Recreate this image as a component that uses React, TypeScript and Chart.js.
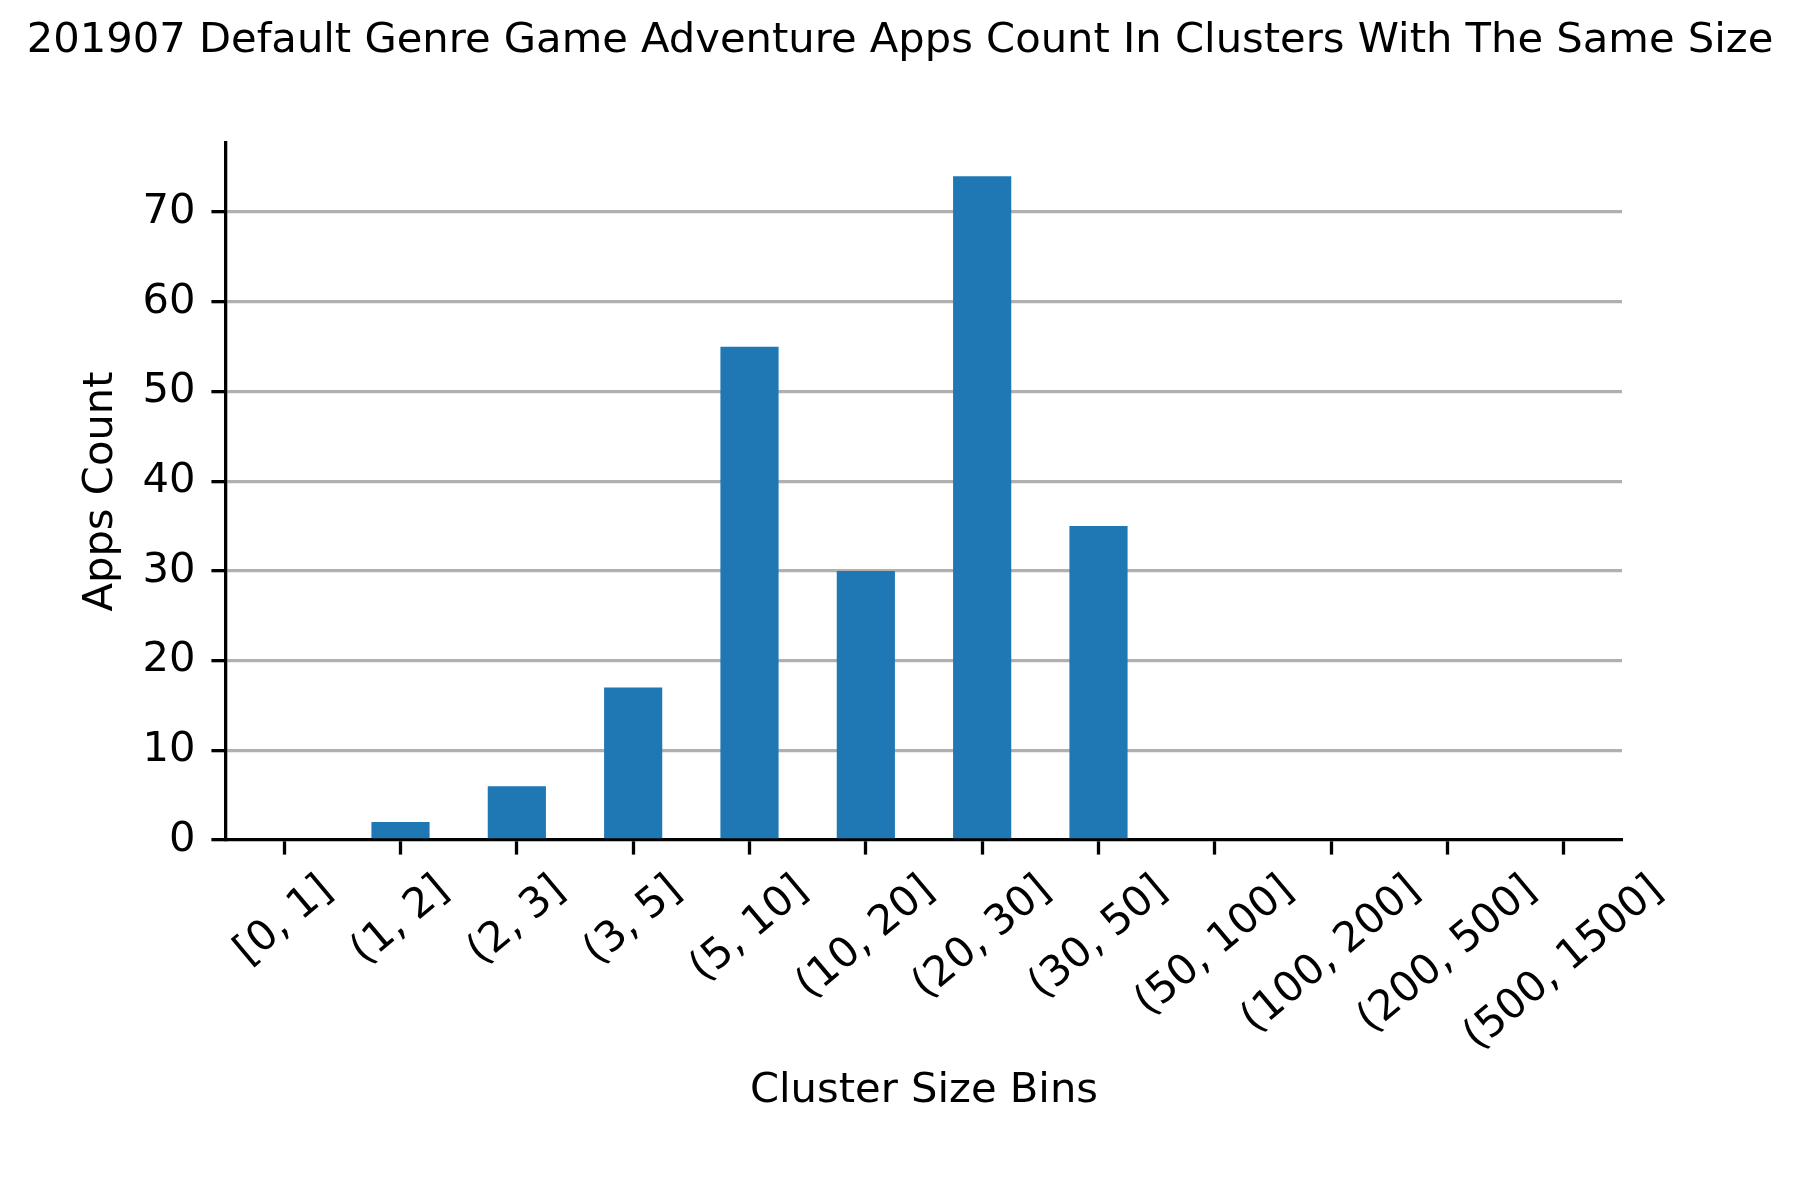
import React, { useEffect, useRef } from "react";
import { Chart, registerables } from "chart.js";

Chart.register(...registerables);

const binLabels = [
  "[0, 1]", "(1, 2]", "(2, 3]", "(3, 5]", "(5, 10]", "(10, 20]",
  "(20, 30]", "(30, 50]", "(50, 100]", "(100, 200]", "(200, 500]", "(500, 1500]",
];
const appsCount = [0, 2, 6, 17, 55, 30, 74, 35, 0, 0, 0, 0];
const titleText = "201907 Default Genre Game Adventure Apps Count In Clusters With The Same Size";
const xTitle = "Cluster Size Bins";
const yTitle = "Apps Count";

const FONT = '"DejaVu Sans", "Liberation Sans", sans-serif';
const FS = 41.67;
const TICK = 14.6;
const LW = 3.3;

const xLabelPlugin = {
  id: "xRotLabels",
  afterDraw(chart: any) {
    const sx = chart.scales.x;
    const ctx = chart.ctx;
    ctx.save();
    ctx.font = `${FS}px ${FONT}`;
    ctx.fillStyle = "#000";
    const ang = (40 * Math.PI) / 180;
    const top = sx.top + TICK + 14.6;
    binLabels.forEach((lab, i) => {
      const px = sx.getPixelForTick(i);
      const w = ctx.measureText(lab).width;
      const h = FS;
      const H = w * Math.sin(ang) + h * Math.cos(ang);
      ctx.save();
      ctx.translate(px, top + H / 2);
      ctx.rotate(-ang);
      ctx.textAlign = "center";
      ctx.textBaseline = "alphabetic";
      ctx.fillText(lab, 0, 0.262 * FS);
      ctx.restore();
    });
    ctx.restore();
  },
};

export default function App() {
  const ref = useRef<HTMLCanvasElement>(null);
  useEffect(() => {
    document.body.style.margin = "0";
    const canvas = ref.current!;
    const chart = new Chart(canvas, {
      type: "bar",
      data: {
        labels: binLabels,
        datasets: [
          {
            data: appsCount,
            backgroundColor: "#1f77b4",
            borderWidth: 0,
            barPercentage: 0.5,
            categoryPercentage: 1.0,
          },
        ],
      },
      options: {
        responsive: false,
        animation: false,
        events: [],
        layout: { padding: 0 },
        plugins: {
          legend: { display: false },
          tooltip: { enabled: false },
          title: {
            display: true,
            text: titleText,
            color: "#000",
            font: { family: FONT, size: FS, weight: "normal", lineHeight: 1.2 },
            padding: { top: 16, bottom: 77 },
          },
        },
        scales: {
          x: {
            z: 1,
            offset: true,
            grid: {
              display: true,
              drawOnChartArea: false,
              drawTicks: true,
              tickLength: TICK,
              tickColor: "#000",
              tickWidth: LW,
              offset: false,
            },
            border: { display: true, color: "#000", width: LW },
            ticks: { display: false },
            title: {
              display: true,
              text: xTitle,
              color: "#000",
              font: { family: FONT, size: FS, lineHeight: 1.2 },
              padding: { top: 0, bottom: 84 },
            },
            afterFit(scale: any) {
              scale.height = 360;
            },
          },
          y: {
            z: 1,
            min: 0,
            max: 77.7,
            grid: {
              color: (c: any) => (c.tick && c.tick.value === 0 ? "rgba(0,0,0,0)" : "#b0b0b0"),
              lineWidth: LW,
              drawTicks: true,
              tickLength: TICK,
              tickColor: "#000",
              tickWidth: LW,
            },
            border: { display: true, color: "#000", width: LW },
            ticks: {
              stepSize: 10,
              includeBounds: false,
              color: "#000",
              padding: 16,
              font: { family: FONT, size: FS },
            },
            title: {
              display: true,
              text: yTitle,
              color: "#000",
              font: { family: FONT, size: FS, lineHeight: 1.2 },
              padding: { top: 76, bottom: 0 },
            },
            afterFit(scale: any) {
              scale.width = 226;
            },
          },
          rightSpace: {
            type: "linear",
            position: "right",
            display: true,
            grid: { display: false, drawTicks: false },
            border: { display: false },
            ticks: { display: false },
            afterFit(scale: any) {
              scale.width = 178;
            },
          },
        },
      },
      plugins: [xLabelPlugin],
    } as any);
    return () => chart.destroy();
  }, []);
  return <canvas ref={ref} width={1800} height={1200} style={{ display: "block" }} />;
}
